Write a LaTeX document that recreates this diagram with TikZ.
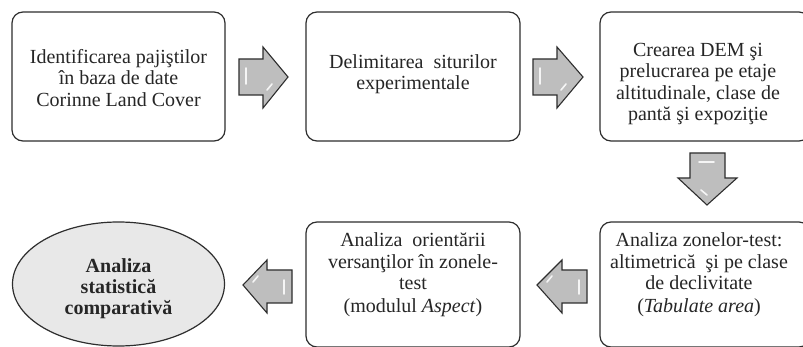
\documentclass[tikz,border=0pt]{standalone}
\usepackage{fontspec}
\setmainfont{Liberation Serif}
\usetikzlibrary{shapes.geometric}
\definecolor{edge}{HTML}{2E2E2E}
\definecolor{arrowfill}{HTML}{BEBEBE}
\definecolor{ellfill}{HTML}{E8E8E8}
\tikzset{
  flowbox/.style={draw=edge, line width=1.2pt, rounded corners=11pt, fill=white, inner sep=0pt},
  boxtext/.style={align=center, font=\fontsize{20}{21.3}\selectfont, inner sep=0pt, text=black!85},
  blockarrow/.style={draw=edge, line width=1.1pt, fill=arrowfill, line join=miter},
  shine/.style={draw=white, line width=1.6pt, line cap=round, opacity=0.85},
}
\begin{document}
\begin{tikzpicture}[x=1pt, y=-1pt]
\useasboundingbox[fill=white] (0,0) rectangle (803,347);
% boxes
\node[flowbox, minimum width=213pt, minimum height=129pt] (b1) at (118.5,76.5) {};
\node[flowbox, minimum width=214pt, minimum height=129pt] (b2) at (413,76.5) {};
\node[flowbox, minimum width=210pt, minimum height=129pt] (b3) at (705,76.5) {};
\node[flowbox, minimum width=210pt, minimum height=125pt] (b4) at (705,284.5) {};
\node[flowbox, minimum width=214pt, minimum height=125pt] (b5) at (413,284.5) {};
\node[ellipse, draw=edge, line width=1.2pt, fill=ellfill, minimum width=212pt, minimum height=124pt, inner sep=0pt] (e1) at (118.5,284) {};
% texts
\node[boxtext] (t1) at (118.5,78) {Identificarea pajiştilor\\în baza de date\\Corinne Land Cover};
\node[boxtext] (t2) at (413,74) {Delimitarea~ siturilor\\experimentale};
\node[boxtext] (t3) at (698,84) {Crearea DEM şi\\prelucrarea pe etaje\\altitudinale, clase de\\pantă şi expoziţie};
\node[boxtext] (t4) at (699,275) {Analiza zonelor-test:\\altimetrică~ şi pe clase\\de declivitate\\[2pt](\textit{Tabulate area})};
\node[boxtext] (t5) at (413,275) {Analiza~ orientării\\versanţilor în zonele-\\test\\[2pt](modulul \textit{Aspect})};
\node[boxtext, font=\fontsize{20}{21}\selectfont\bfseries] (t6) at (118.5,289) {Analiza\\statistică\\comparativă};
% block arrows
\draw[blockarrow] (239,59) -- (263,59) -- (263,47) -- (288,77) -- (263,108) -- (263,95) -- (239,95) -- cycle;
\draw[blockarrow] (533,59) -- (557,59) -- (557,47) -- (583,77) -- (557,108) -- (557,95) -- (533,95) -- cycle;
\draw[blockarrow] (690,153) -- (725,153) -- (725,178) -- (737,178) -- (707,205) -- (678,178) -- (690,178) -- cycle;
\draw[blockarrow] (587,270) -- (562,270) -- (562,260) -- (537,285) -- (562,313) -- (562,303) -- (587,303) -- cycle;
\draw[blockarrow] (292,270) -- (267,270) -- (267,260) -- (243,285) -- (267,313) -- (267,303) -- (292,303) -- cycle;
% highlights
\draw[shine] (246,68) -- (246,84);
\draw[shine] (267,90) -- (272,84);
\draw[shine] (540,68) -- (540,84);
\draw[shine] (561,90) -- (566,84);
\draw[shine] (699,162) -- (714,162);
\draw[shine] (701,190) -- (707,195);
\draw[shine] (547,282) -- (552,276);
\draw[shine] (579,280) -- (579,294);
\draw[shine] (253,282) -- (258,276);
\draw[shine] (284,280) -- (284,294);
\end{tikzpicture}
\end{document}
